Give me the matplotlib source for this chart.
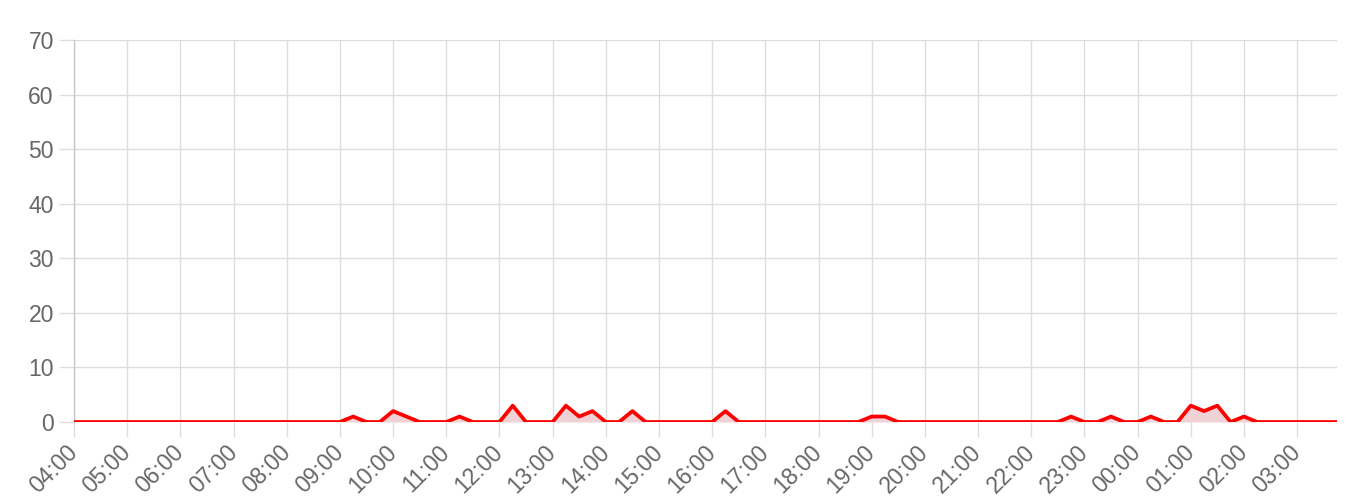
import matplotlib
matplotlib.use('Agg')
import matplotlib.pyplot as plt
import matplotlib.dates as mdates
import pandas as pd

# %% Data (15 min steps, 04:00 -> 03:45 next day)
start_time = '2024-01-01 04:00'
n_steps    = 96

values = [
    0, 0, 0, 0,   # 04
    0, 0, 0, 0,   # 05
    0, 0, 0, 0,   # 06
    0, 0, 0, 0,   # 07
    0, 0, 0, 0,   # 08
    0, 1, 0, 0,   # 09
    2, 1, 0, 0,   # 10
    0, 1, 0, 0,   # 11
    0, 3, 0, 0,   # 12
    0, 3, 1, 2,   # 13
    0, 0, 2, 0,   # 14
    0, 0, 0, 0,   # 15
    0, 2, 0, 0,   # 16
    0, 0, 0, 0,   # 17
    0, 0, 0, 0,   # 18
    1, 1, 0, 0,   # 19
    0, 0, 0, 0,   # 20
    0, 0, 0, 0,   # 21
    0, 0, 0, 1,   # 22
    0, 0, 1, 0,   # 23
    0, 1, 0, 0,   # 00
    3, 2, 3, 0,   # 01
    1, 0, 0, 0,   # 02
    0, 0, 0, 0,   # 03
]
y_ticks = [0, 10, 20, 30, 40, 50, 60, 70]

times = pd.date_range(start_time, periods=n_steps, freq='15min')

# %% Figure parameters
grid_color = '#dddddd'
axis_color = '#c8c8c8'
text_color = '#666666'
line_color = '#ff0000'
fill_color = '#f0d2d6'
fontsize   = 16.5

plt.rcParams['font.family'] = ['Liberation Sans', 'DejaVu Sans']

fig = plt.figure(figsize=(13.6, 5.03), dpi=100)
ax = fig.add_axes([74/1360, 1 - 422/503, (1337 - 74)/1360, (422 - 40)/503])

ax.fill_between(times, values, 0, color=fill_color, lw=0, zorder=2)
ax.plot(times, values, color=line_color, lw=2.7, zorder=3, solid_joinstyle='round')

ax.set_xlim(times[0], times[-1])
ax.set_ylim(0, 70)
ax.set_yticks(y_ticks)

ax.xaxis.set_major_locator(mdates.HourLocator())
ax.xaxis.set_major_formatter(mdates.DateFormatter('%H:%M'))

ax.grid(True, color=grid_color, lw=1, zorder=0)
ax.tick_params(axis='both', colors=grid_color, length=10.5, width=1,
               labelcolor=text_color, labelsize=fontsize, pad=4)
ax.tick_params(axis='x', pad=9)
for lab in ax.get_xticklabels():
    lab.set_rotation(45)
    lab.set_ha('right')
    lab.set_va('center')
    lab.set_rotation_mode('anchor')

for s in ['top', 'right', 'bottom']:
    ax.spines[s].set_visible(False)
ax.spines['left'].set_color(axis_color)
ax.spines['left'].set_linewidth(1)

fig.savefig('out.png', dpi=100)
